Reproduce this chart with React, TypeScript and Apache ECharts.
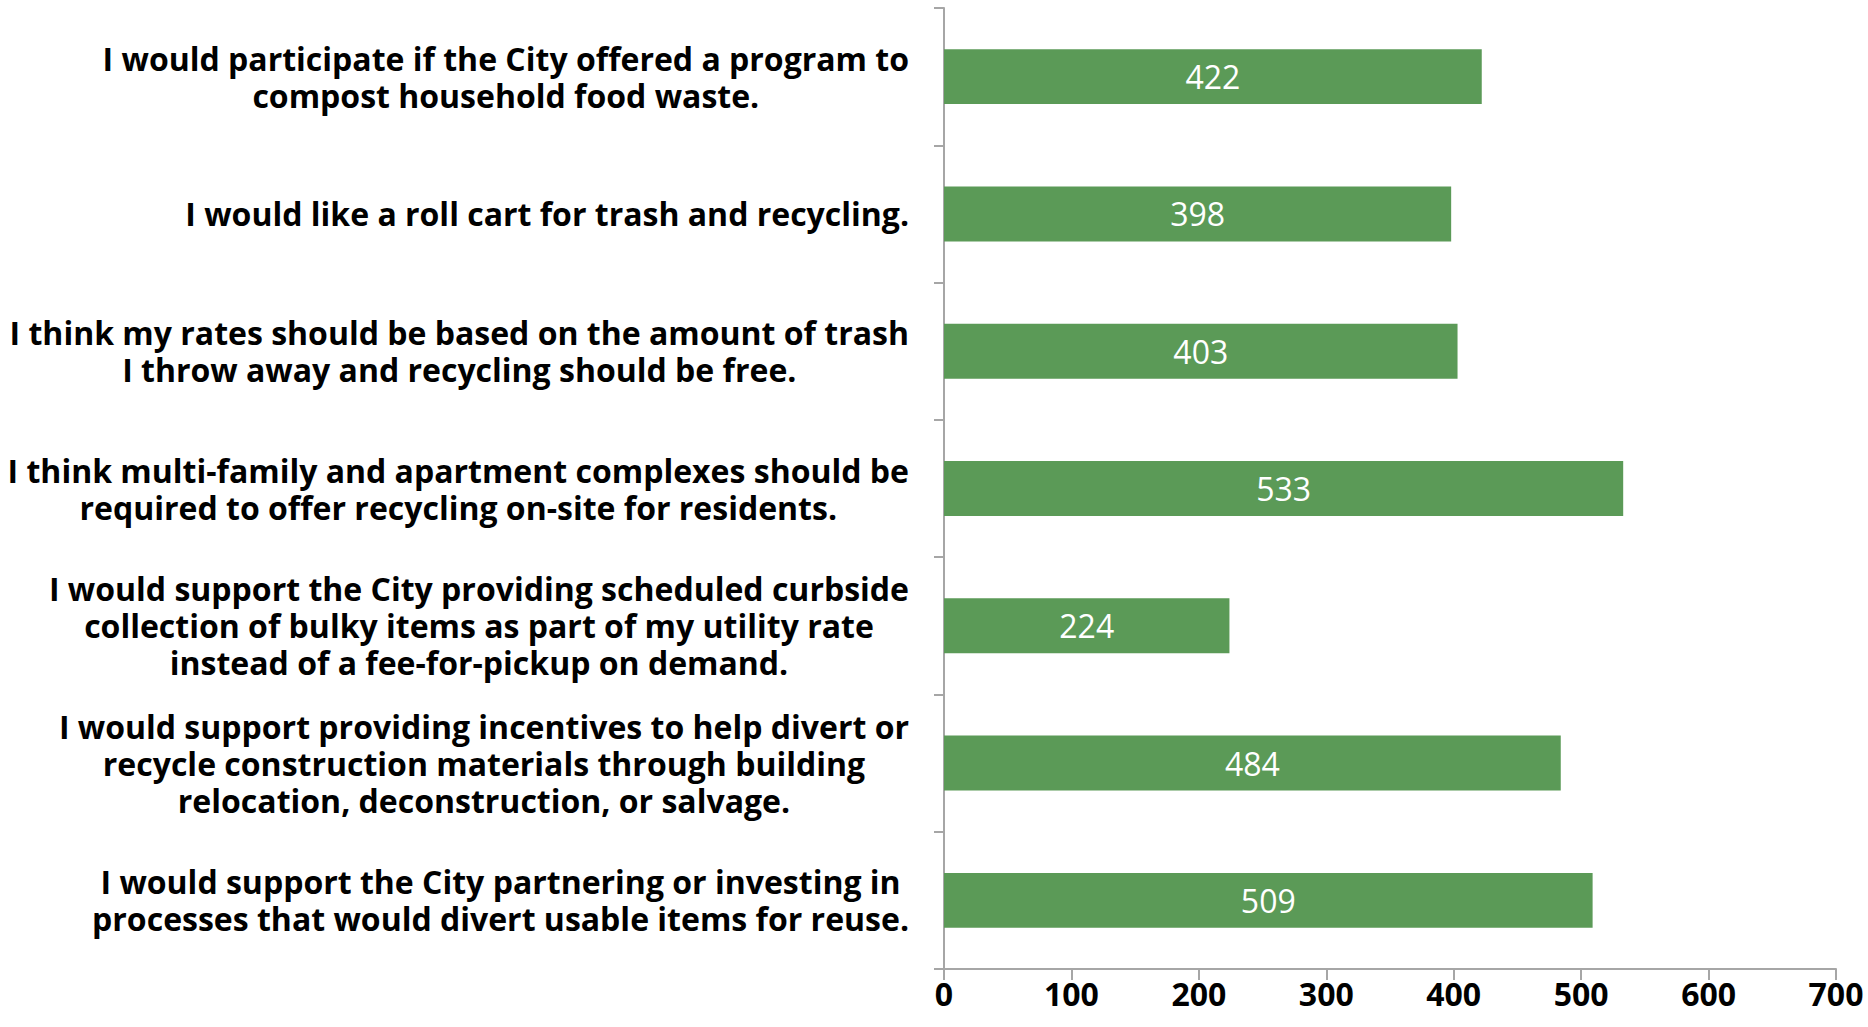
import React, { useEffect, useRef } from "react";
import * as echarts from "echarts";

const categories: string[] = [
  "I would participate if the City offered a program to\ncompost household food waste.",
  "I would like a roll cart for trash and recycling.",
  "I think my rates should be based on the amount of trash\nI throw away and recycling should be free.",
  "I think multi-family and apartment complexes should be\nrequired to offer recycling on-site for residents.",
  "I would support the City providing scheduled curbside\ncollection of bulky items as part of my utility rate\ninstead of a fee-for-pickup on demand.",
  "I would support providing incentives to help divert or\nrecycle construction materials through building\nrelocation, deconstruction, or salvage.",
  "I would support the City partnering or investing in\nprocesses that would divert usable items for reuse.",
];

const values: number[] = [422, 398, 403, 533, 224, 484, 509];

const xMin = 0;
const xMax = 700;
const xInterval = 100;

export default function App() {
  const ref = useRef<HTMLDivElement>(null);

  useEffect(() => {
    document.body.style.margin = "0";
    if (!ref.current) return;
    const chart = echarts.init(ref.current, undefined, { renderer: "svg" });
    const font = "'Open Sans', 'Noto Sans', sans-serif";
    chart.setOption({
      animation: false,
      textStyle: { fontFamily: font },
      grid: { left: 944, right: 32, top: 8, bottom: 58, containLabel: false },
      xAxis: {
        type: "value",
        min: xMin,
        max: xMax,
        interval: xInterval,
        splitLine: { show: false },
        axisLine: { show: true, lineStyle: { color: "#a6a6a6", width: 2 } },
        axisTick: { show: true, length: 11, lineStyle: { color: "#a6a6a6", width: 2 } },
        axisLabel: {
          color: "#000",
          fontSize: 32,
          fontWeight: "bold",
          fontFamily: font,
          margin: 8,
        },
      },
      yAxis: {
        type: "category",
        inverse: true,
        data: categories,
        axisLine: { show: true, lineStyle: { color: "#a6a6a6", width: 2 } },
        axisTick: { show: true, length: 10, lineStyle: { color: "#a6a6a6", width: 2 } },
        axisLabel: {
          margin: 35,
          color: "#000",
          fontFamily: font,
          fontSize: 32,
          fontWeight: "bold",
          formatter: (v: string) =>
            v
              .split("\n")
              .map((l) => `{c|${l}}`)
              .join("\n"),
          rich: {
            c: {
              align: "center",
              color: "#000",
              fontFamily: font,
              fontSize: 32,
              fontWeight: "bold",
              lineHeight: 37,
            },
          },
        },
      },
      series: [
        {
          type: "bar",
          data: values,
          barWidth: "40%",
          itemStyle: { color: "#5b9a57" },
          label: {
            show: true,
            position: "inside",
            color: "#fff",
            fontFamily: font,
            fontSize: 32,
            fontWeight: "normal",
          },
        },
      ],
    });
    return () => chart.dispose();
  }, []);

  return <div ref={ref} style={{ width: 1868, height: 1027 }} />;
}
